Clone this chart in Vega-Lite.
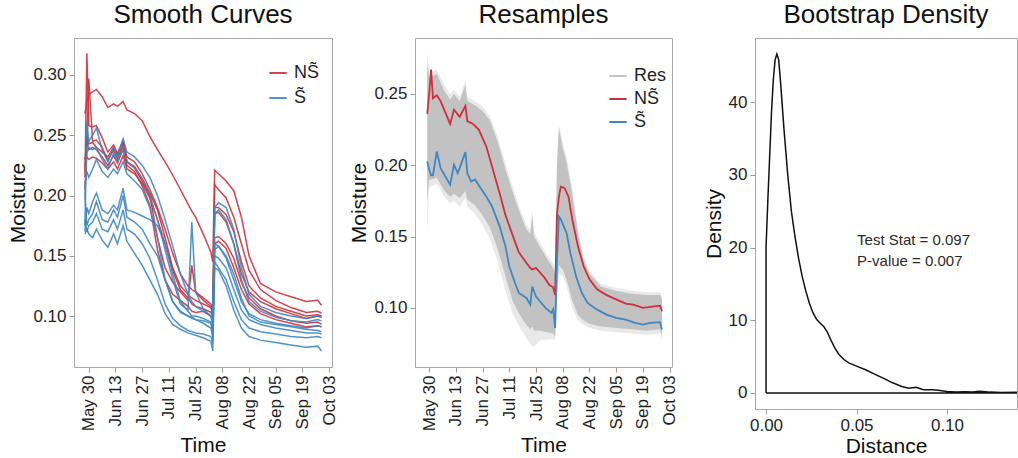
{
"$schema": "https://vega.github.io/schema/vega-lite/v6.json",
"padding": {"left": 7, "top": 1, "right": 0, "bottom": 2},
"bounds": "flush",
"spacing": 83,
"config": {
  "font": "Liberation Sans",
  "view": {"stroke": "#A8A8A8", "strokeWidth": 1},
  "axis": {"domain": false, "grid": false, "tickSize": 5, "tickColor": "#9a9a9a", "labelFontSize": 17, "labelColor": "#1f1f1f", "labelPadding": 3, "titleFontSize": 21, "titleFontWeight": "normal", "titleColor": "#111111", "titlePadding": 4, "labelFlush": false, "labelOverlap": false},
  "title": {"fontSize": 26, "fontWeight": "normal", "color": "#111111", "anchor": "middle", "baseline": "alphabetic", "offset": 10},
  "legend": {"symbolType": "stroke", "symbolSize": 300, "symbolStrokeWidth": 2, "labelFontSize": 18, "labelColor": "#1f1f1f", "padding": 0, "labelOffset": 6}
},
"resolve": {"scale": {"color": "independent"}},
"datasets": {
  "sm": [
    {"date":"2014-05-28","R1":0.268,"R2":0.215,"R3":0.205,"R4":0.23,"R5":0.225,"R6":0.22,"B1":0.175,"B2":0.2,"B3":0.21,"B4":0.17,"B5":0.2,"B6":0.18,"B7":0.168},
    {"date":"2014-05-29","R1":0.279,"R2":0.318,"R3":0.24,"R4":0.245,"R5":0.232,"R6":0.25,"B1":0.262,"B2":0.235,"B3":0.22,"B4":0.19,"B5":0.175,"B6":0.17,"B7":0.172},
    {"date":"2014-05-30","R1":0.284,"R2":0.258,"R3":0.297,"R4":0.238,"R5":0.23,"R6":0.243,"B1":0.245,"B2":0.24,"B3":0.215,"B4":0.185,"B5":0.18,"B6":0.175,"B7":0.168},
    {"date":"2014-06-01","R1":0.286,"R2":0.257,"R3":0.245,"R4":0.24,"R5":0.232,"R6":0.244,"B1":0.25,"B2":0.238,"B3":0.222,"B4":0.195,"B5":0.185,"B6":0.178,"B7":0.165},
    {"date":"2014-06-03","R1":0.288,"R2":0.258,"R3":0.246,"R4":0.238,"R5":0.231,"R6":0.24,"B1":0.256,"B2":0.24,"B3":0.23,"B4":0.202,"B5":0.195,"B6":0.185,"B7":0.172},
    {"date":"2014-06-06","R1":0.282,"R2":0.248,"R3":0.24,"R4":0.232,"R5":0.227,"R6":0.236,"B1":0.238,"B2":0.23,"B3":0.22,"B4":0.188,"B5":0.18,"B6":0.172,"B7":0.163},
    {"date":"2014-06-09","R1":0.273,"R2":0.236,"R3":0.229,"R4":0.225,"R5":0.222,"R6":0.232,"B1":0.228,"B2":0.222,"B3":0.215,"B4":0.185,"B5":0.178,"B6":0.17,"B7":0.157},
    {"date":"2014-06-12","R1":0.276,"R2":0.242,"R3":0.238,"R4":0.233,"R5":0.228,"R6":0.24,"B1":0.24,"B2":0.235,"B3":0.222,"B4":0.192,"B5":0.188,"B6":0.18,"B7":0.168},
    {"date":"2014-06-14","R1":0.274,"R2":0.235,"R3":0.23,"R4":0.227,"R5":0.222,"R6":0.233,"B1":0.232,"B2":0.228,"B3":0.218,"B4":0.188,"B5":0.182,"B6":0.172,"B7":0.16},
    {"date":"2014-06-17","R1":0.278,"R2":0.246,"R3":0.242,"R4":0.238,"R5":0.233,"R6":0.244,"B1":0.247,"B2":0.24,"B3":0.228,"B4":0.206,"B5":0.2,"B6":0.188,"B7":0.175},
    {"date":"2014-06-19","R1":0.271,"R2":0.232,"R3":0.228,"R4":0.225,"R5":0.222,"R6":0.228,"B1":0.236,"B2":0.228,"B3":0.218,"B4":0.188,"B5":0.182,"B6":0.172,"B7":0.162},
    {"date":"2014-06-23","R1":0.268,"R2":0.228,"R3":0.223,"R4":0.22,"R5":0.218,"R6":0.224,"B1":0.232,"B2":0.223,"B3":0.212,"B4":0.186,"B5":0.178,"B6":0.168,"B7":0.152},
    {"date":"2014-06-27","R1":0.262,"R2":0.218,"R3":0.212,"R4":0.208,"R5":0.21,"R6":0.214,"B1":0.225,"B2":0.214,"B3":0.205,"B4":0.183,"B5":0.172,"B6":0.16,"B7":0.142},
    {"date":"2014-07-01","R1":0.249,"R2":0.205,"R3":0.2,"R4":0.192,"R5":0.198,"R6":0.202,"B1":0.215,"B2":0.2,"B3":0.19,"B4":0.18,"B5":0.16,"B6":0.148,"B7":0.13},
    {"date":"2014-07-05","R1":0.238,"R2":0.19,"R3":0.165,"R4":0.155,"R5":0.18,"R6":0.188,"B1":0.2,"B2":0.18,"B3":0.165,"B4":0.175,"B5":0.15,"B6":0.13,"B7":0.118},
    {"date":"2014-07-09","R1":0.228,"R2":0.172,"R3":0.14,"R4":0.13,"R5":0.16,"R6":0.165,"B1":0.18,"B2":0.155,"B3":0.13,"B4":0.16,"B5":0.13,"B6":0.11,"B7":0.102},
    {"date":"2014-07-13","R1":0.217,"R2":0.152,"R3":0.128,"R4":0.118,"R5":0.138,"R6":0.14,"B1":0.158,"B2":0.13,"B3":0.112,"B4":0.135,"B5":0.112,"B6":0.098,"B7":0.093},
    {"date":"2014-07-17","R1":0.205,"R2":0.135,"R3":0.12,"R4":0.113,"R5":0.122,"R6":0.125,"B1":0.135,"B2":0.11,"B3":0.104,"B4":0.112,"B5":0.103,"B6":0.092,"B7":0.089},
    {"date":"2014-07-21","R1":0.193,"R2":0.125,"R3":0.113,"R4":0.108,"R5":0.115,"R6":0.118,"B1":0.118,"B2":0.105,"B3":0.1,"B4":0.104,"B5":0.1,"B6":0.088,"B7":0.086},
    {"date":"2014-07-23","R1":0.187,"R2":0.122,"R3":0.142,"R4":0.104,"R5":0.11,"R6":0.115,"B1":0.112,"B2":0.178,"B3":0.098,"B4":0.1,"B5":0.099,"B6":0.087,"B7":0.085},
    {"date":"2014-07-25","R1":0.182,"R2":0.12,"R3":0.12,"R4":0.103,"R5":0.108,"R6":0.113,"B1":0.108,"B2":0.12,"B3":0.097,"B4":0.1,"B5":0.097,"B6":0.086,"B7":0.084},
    {"date":"2014-07-29","R1":0.168,"R2":0.115,"R3":0.113,"R4":0.104,"R5":0.106,"R6":0.11,"B1":0.104,"B2":0.106,"B3":0.096,"B4":0.098,"B5":0.094,"B6":0.085,"B7":0.082},
    {"date":"2014-08-02","R1":0.153,"R2":0.11,"R3":0.108,"R4":0.1,"R5":0.103,"R6":0.107,"B1":0.1,"B2":0.1,"B3":0.094,"B4":0.095,"B5":0.09,"B6":0.083,"B7":0.079},
    {"date":"2014-08-03","R1":0.145,"R2":0.105,"R3":0.1,"R4":0.098,"R5":0.1,"R6":0.104,"B1":0.095,"B2":0.093,"B3":0.09,"B4":0.085,"B5":0.082,"B6":0.078,"B7":0.071},
    {"date":"2014-08-04","R1":0.221,"R2":0.209,"R3":0.185,"R4":0.165,"R5":0.16,"R6":0.19,"B1":0.19,"B2":0.185,"B3":0.16,"B4":0.155,"B5":0.15,"B6":0.145,"B7":0.14},
    {"date":"2014-08-06","R1":0.218,"R2":0.205,"R3":0.186,"R4":0.166,"R5":0.162,"R6":0.19,"B1":0.194,"B2":0.188,"B3":0.158,"B4":0.158,"B5":0.148,"B6":0.14,"B7":0.138},
    {"date":"2014-08-10","R1":0.212,"R2":0.198,"R3":0.178,"R4":0.16,"R5":0.156,"R6":0.184,"B1":0.19,"B2":0.18,"B3":0.148,"B4":0.15,"B5":0.14,"B6":0.13,"B7":0.125},
    {"date":"2014-08-14","R1":0.204,"R2":0.182,"R3":0.16,"R4":0.148,"R5":0.14,"R6":0.17,"B1":0.172,"B2":0.16,"B3":0.13,"B4":0.135,"B5":0.122,"B6":0.112,"B7":0.105},
    {"date":"2014-08-18","R1":0.182,"R2":0.16,"R3":0.135,"R4":0.128,"R5":0.122,"R6":0.145,"B1":0.14,"B2":0.13,"B3":0.112,"B4":0.115,"B5":0.105,"B6":0.097,"B7":0.09},
    {"date":"2014-08-22","R1":0.15,"R2":0.138,"R3":0.12,"R4":0.115,"R5":0.11,"R6":0.125,"B1":0.118,"B2":0.112,"B3":0.102,"B4":0.1,"B5":0.097,"B6":0.09,"B7":0.083},
    {"date":"2014-08-28","R1":0.127,"R2":0.122,"R3":0.112,"R4":0.106,"R5":0.102,"R6":0.115,"B1":0.108,"B2":0.104,"B3":0.097,"B4":0.095,"B5":0.093,"B6":0.087,"B7":0.08},
    {"date":"2014-09-05","R1":0.12,"R2":0.113,"R3":0.106,"R4":0.1,"R5":0.097,"R6":0.108,"B1":0.103,"B2":0.099,"B3":0.094,"B4":0.093,"B5":0.09,"B6":0.085,"B7":0.078},
    {"date":"2014-09-13","R1":0.116,"R2":0.107,"R3":0.102,"R4":0.096,"R5":0.094,"R6":0.104,"B1":0.1,"B2":0.096,"B3":0.092,"B4":0.091,"B5":0.088,"B6":0.083,"B7":0.076},
    {"date":"2014-09-21","R1":0.112,"R2":0.103,"R3":0.098,"R4":0.094,"R5":0.091,"R6":0.1,"B1":0.098,"B2":0.095,"B3":0.09,"B4":0.089,"B5":0.086,"B6":0.082,"B7":0.074},
    {"date":"2014-09-27","R1":0.113,"R2":0.104,"R3":0.1,"R4":0.095,"R5":0.092,"R6":0.101,"B1":0.1,"B2":0.097,"B3":0.092,"B4":0.088,"B5":0.086,"B6":0.083,"B7":0.075},
    {"date":"2014-09-29","R1":0.109,"R2":0.1025,"R3":0.099,"R4":0.093,"R5":0.091,"R6":0.1,"B1":0.099,"B2":0.096,"B3":0.091,"B4":0.087,"B5":0.085,"B6":0.082,"B7":0.071}
  ],
  "band": [
    {"date":"2014-05-29","lo":0.175,"hi":0.272,"lo2":0.152,"hi2":0.279},
    {"date":"2014-05-30","lo":0.19,"hi":0.262,"lo2":0.184,"hi2":0.268},
    {"date":"2014-05-31","lo":0.19,"hi":0.262,"lo2":0.185,"hi2":0.266},
    {"date":"2014-06-03","lo":0.191,"hi":0.264,"lo2":0.187,"hi2":0.267},
    {"date":"2014-06-07","lo":0.182,"hi":0.252,"lo2":0.178,"hi2":0.256},
    {"date":"2014-06-10","lo":0.178,"hi":0.246,"lo2":0.173,"hi2":0.25},
    {"date":"2014-06-12","lo":0.18,"hi":0.25,"lo2":0.175,"hi2":0.253},
    {"date":"2014-06-15","lo":0.177,"hi":0.245,"lo2":0.171,"hi2":0.248},
    {"date":"2014-06-18","lo":0.182,"hi":0.256,"lo2":0.177,"hi2":0.259},
    {"date":"2014-06-19","lo":0.176,"hi":0.245,"lo2":0.171,"hi2":0.248},
    {"date":"2014-06-23","lo":0.172,"hi":0.242,"lo2":0.166,"hi2":0.245},
    {"date":"2014-06-27","lo":0.165,"hi":0.238,"lo2":0.158,"hi2":0.241},
    {"date":"2014-07-01","lo":0.156,"hi":0.231,"lo2":0.148,"hi2":0.234},
    {"date":"2014-07-05","lo":0.141,"hi":0.216,"lo2":0.132,"hi2":0.22},
    {"date":"2014-07-09","lo":0.122,"hi":0.197,"lo2":0.112,"hi2":0.201},
    {"date":"2014-07-13","lo":0.104,"hi":0.18,"lo2":0.095,"hi2":0.184},
    {"date":"2014-07-17","lo":0.094,"hi":0.165,"lo2":0.085,"hi2":0.168},
    {"date":"2014-07-20","lo":0.088,"hi":0.155,"lo2":0.079,"hi2":0.158},
    {"date":"2014-07-22","lo":0.085,"hi":0.152,"lo2":0.075,"hi2":0.155},
    {"date":"2014-07-23","lo":0.087,"hi":0.165,"lo2":0.073,"hi2":0.168},
    {"date":"2014-07-24","lo":0.084,"hi":0.15,"lo2":0.073,"hi2":0.153},
    {"date":"2014-07-27","lo":0.084,"hi":0.143,"lo2":0.077,"hi2":0.146},
    {"date":"2014-07-31","lo":0.083,"hi":0.134,"lo2":0.078,"hi2":0.137},
    {"date":"2014-08-03","lo":0.082,"hi":0.128,"lo2":0.078,"hi2":0.131},
    {"date":"2014-08-04","lo":0.08,"hi":0.124,"lo2":0.077,"hi2":0.127},
    {"date":"2014-08-05","lo":0.11,"hi":0.2,"lo2":0.104,"hi2":0.204},
    {"date":"2014-08-06","lo":0.13,"hi":0.226,"lo2":0.124,"hi2":0.229},
    {"date":"2014-08-08","lo":0.127,"hi":0.212,"lo2":0.122,"hi2":0.216},
    {"date":"2014-08-10","lo":0.12,"hi":0.202,"lo2":0.115,"hi2":0.206},
    {"date":"2014-08-13","lo":0.105,"hi":0.18,"lo2":0.1,"hi2":0.184},
    {"date":"2014-08-16","lo":0.095,"hi":0.152,"lo2":0.091,"hi2":0.155},
    {"date":"2014-08-19","lo":0.091,"hi":0.133,"lo2":0.088,"hi2":0.136},
    {"date":"2014-08-22","lo":0.089,"hi":0.124,"lo2":0.086,"hi2":0.126},
    {"date":"2014-08-28","lo":0.087,"hi":0.115,"lo2":0.084,"hi2":0.117},
    {"date":"2014-09-05","lo":0.086,"hi":0.112,"lo2":0.083,"hi2":0.114},
    {"date":"2014-09-13","lo":0.085,"hi":0.11,"lo2":0.082,"hi2":0.112},
    {"date":"2014-09-21","lo":0.084,"hi":0.109,"lo2":0.081,"hi2":0.111},
    {"date":"2014-09-28","lo":0.085,"hi":0.109,"lo2":0.082,"hi2":0.111},
    {"date":"2014-09-29","lo":0.081,"hi":0.106,"lo2":0.078,"hi2":0.108}
  ],
  "means": [
    {"date":"2014-05-29","g":"NS\u0303","v":0.236},
    {"date":"2014-05-30","g":"NS\u0303","v":0.25},
    {"date":"2014-05-31","g":"NS\u0303","v":0.267},
    {"date":"2014-06-01","g":"NS\u0303","v":0.247},
    {"date":"2014-06-03","g":"NS\u0303","v":0.249},
    {"date":"2014-06-05","g":"NS\u0303","v":0.245},
    {"date":"2014-06-10","g":"NS\u0303","v":0.229},
    {"date":"2014-06-12","g":"NS\u0303","v":0.239},
    {"date":"2014-06-15","g":"NS\u0303","v":0.234},
    {"date":"2014-06-18","g":"NS\u0303","v":0.2416},
    {"date":"2014-06-19","g":"NS\u0303","v":0.231},
    {"date":"2014-06-22","g":"NS\u0303","v":0.229},
    {"date":"2014-06-25","g":"NS\u0303","v":0.225},
    {"date":"2014-06-29","g":"NS\u0303","v":0.213},
    {"date":"2014-07-02","g":"NS\u0303","v":0.199},
    {"date":"2014-07-06","g":"NS\u0303","v":0.18},
    {"date":"2014-07-09","g":"NS\u0303","v":0.165},
    {"date":"2014-07-13","g":"NS\u0303","v":0.15},
    {"date":"2014-07-16","g":"NS\u0303","v":0.139},
    {"date":"2014-07-20","g":"NS\u0303","v":0.1315},
    {"date":"2014-07-22","g":"NS\u0303","v":0.128},
    {"date":"2014-07-23","g":"NS\u0303","v":0.127},
    {"date":"2014-07-25","g":"NS\u0303","v":0.128},
    {"date":"2014-07-29","g":"NS\u0303","v":0.122},
    {"date":"2014-08-01","g":"NS\u0303","v":0.116},
    {"date":"2014-08-03","g":"NS\u0303","v":0.1145},
    {"date":"2014-08-04","g":"NS\u0303","v":0.109},
    {"date":"2014-08-05","g":"NS\u0303","v":0.166},
    {"date":"2014-08-06","g":"NS\u0303","v":0.178},
    {"date":"2014-08-07","g":"NS\u0303","v":0.185},
    {"date":"2014-08-09","g":"NS\u0303","v":0.184},
    {"date":"2014-08-11","g":"NS\u0303","v":0.178},
    {"date":"2014-08-13","g":"NS\u0303","v":0.162},
    {"date":"2014-08-16","g":"NS\u0303","v":0.143},
    {"date":"2014-08-19","g":"NS\u0303","v":0.129},
    {"date":"2014-08-22","g":"NS\u0303","v":0.12},
    {"date":"2014-08-26","g":"NS\u0303","v":0.113},
    {"date":"2014-08-31","g":"NS\u0303","v":0.109},
    {"date":"2014-09-05","g":"NS\u0303","v":0.106},
    {"date":"2014-09-10","g":"NS\u0303","v":0.103},
    {"date":"2014-09-14","g":"NS\u0303","v":0.1023},
    {"date":"2014-09-19","g":"NS\u0303","v":0.1},
    {"date":"2014-09-23","g":"NS\u0303","v":0.1007},
    {"date":"2014-09-28","g":"NS\u0303","v":0.1016},
    {"date":"2014-09-29","g":"NS\u0303","v":0.0977},
    {"date":"2014-05-29","g":"S\u0303","v":0.2026},
    {"date":"2014-05-30","g":"S\u0303","v":0.197},
    {"date":"2014-05-31","g":"S\u0303","v":0.193},
    {"date":"2014-06-01","g":"S\u0303","v":0.193},
    {"date":"2014-06-03","g":"S\u0303","v":0.2096},
    {"date":"2014-06-05","g":"S\u0303","v":0.198},
    {"date":"2014-06-10","g":"S\u0303","v":0.1863},
    {"date":"2014-06-12","g":"S\u0303","v":0.2003},
    {"date":"2014-06-14","g":"S\u0303","v":0.1945},
    {"date":"2014-06-18","g":"S\u0303","v":0.2092},
    {"date":"2014-06-19","g":"S\u0303","v":0.1945},
    {"date":"2014-06-21","g":"S\u0303","v":0.1886},
    {"date":"2014-06-23","g":"S\u0303","v":0.19},
    {"date":"2014-06-25","g":"S\u0303","v":0.186},
    {"date":"2014-06-29","g":"S\u0303","v":0.178},
    {"date":"2014-07-02","g":"S\u0303","v":0.171},
    {"date":"2014-07-06","g":"S\u0303","v":0.157},
    {"date":"2014-07-09","g":"S\u0303","v":0.143},
    {"date":"2014-07-11","g":"S\u0303","v":0.129},
    {"date":"2014-07-14","g":"S\u0303","v":0.1175},
    {"date":"2014-07-16","g":"S\u0303","v":0.1105},
    {"date":"2014-07-20","g":"S\u0303","v":0.107},
    {"date":"2014-07-22","g":"S\u0303","v":0.1023},
    {"date":"2014-07-23","g":"S\u0303","v":0.115},
    {"date":"2014-07-25","g":"S\u0303","v":0.108},
    {"date":"2014-07-27","g":"S\u0303","v":0.1047},
    {"date":"2014-07-30","g":"S\u0303","v":0.1},
    {"date":"2014-08-02","g":"S\u0303","v":0.0965},
    {"date":"2014-08-03","g":"S\u0303","v":0.099},
    {"date":"2014-08-04","g":"S\u0303","v":0.086},
    {"date":"2014-08-05","g":"S\u0303","v":0.134},
    {"date":"2014-08-06","g":"S\u0303","v":0.164},
    {"date":"2014-08-07","g":"S\u0303","v":0.162},
    {"date":"2014-08-10","g":"S\u0303","v":0.1525},
    {"date":"2014-08-12","g":"S\u0303","v":0.1385},
    {"date":"2014-08-15","g":"S\u0303","v":0.122},
    {"date":"2014-08-18","g":"S\u0303","v":0.1105},
    {"date":"2014-08-21","g":"S\u0303","v":0.1035},
    {"date":"2014-08-26","g":"S\u0303","v":0.0988},
    {"date":"2014-08-31","g":"S\u0303","v":0.0953},
    {"date":"2014-09-05","g":"S\u0303","v":0.093},
    {"date":"2014-09-10","g":"S\u0303","v":0.0918},
    {"date":"2014-09-15","g":"S\u0303","v":0.0895},
    {"date":"2014-09-19","g":"S\u0303","v":0.0883},
    {"date":"2014-09-23","g":"S\u0303","v":0.0895},
    {"date":"2014-09-28","g":"S\u0303","v":0.09},
    {"date":"2014-09-29","g":"S\u0303","v":0.0848}
  ],
  "dens": [
    {"i":1,"x":0,"y":0},{"i":2,"x":0,"y":20},{"i":3,"x":0.001,"y":26.5},{"i":4,"x":0.002,"y":32.5},
    {"i":5,"x":0.003,"y":38.5},{"i":6,"x":0.004,"y":43},{"i":7,"x":0.005,"y":45.8},{"i":8,"x":0.006,"y":46.6},
    {"i":9,"x":0.007,"y":45.8},{"i":10,"x":0.008,"y":42.8},{"i":11,"x":0.01,"y":36},{"i":12,"x":0.012,"y":30},
    {"i":13,"x":0.014,"y":25},{"i":14,"x":0.016,"y":21.5},{"i":15,"x":0.018,"y":18.5},{"i":16,"x":0.02,"y":16},
    {"i":17,"x":0.022,"y":14},{"i":18,"x":0.024,"y":12.3},{"i":19,"x":0.026,"y":11},{"i":20,"x":0.028,"y":10.1},
    {"i":21,"x":0.03,"y":9.6},{"i":22,"x":0.032,"y":9.1},{"i":23,"x":0.034,"y":8.3},{"i":24,"x":0.036,"y":7.2},
    {"i":25,"x":0.038,"y":6.2},{"i":26,"x":0.04,"y":5.4},{"i":27,"x":0.043,"y":4.6},{"i":28,"x":0.046,"y":4.1},
    {"i":29,"x":0.05,"y":3.7},{"i":30,"x":0.055,"y":3.2},{"i":31,"x":0.06,"y":2.6},{"i":32,"x":0.065,"y":2},
    {"i":33,"x":0.07,"y":1.4},{"i":34,"x":0.075,"y":0.9},{"i":35,"x":0.079,"y":0.65},{"i":36,"x":0.083,"y":0.8},
    {"i":37,"x":0.087,"y":0.45},{"i":38,"x":0.092,"y":0.45},{"i":39,"x":0.096,"y":0.35},{"i":40,"x":0.1,"y":0.2},
    {"i":41,"x":0.105,"y":0.15},{"i":42,"x":0.11,"y":0.18},{"i":43,"x":0.114,"y":0.15},{"i":44,"x":0.118,"y":0.25},
    {"i":45,"x":0.124,"y":0.12},{"i":46,"x":0.13,"y":0.08},{"i":47,"x":0.1385,"y":0.1},{"i":48,"x":0.1385,"y":0},
    {"i":49,"x":0,"y":0}
  ],
  "ann": [
    {"x":0.0503,"y":21,"t":"Test Stat = 0.097"},
    {"x":0.0503,"y":18.2,"t":"P-value = 0.007"}
  ]
},
"hconcat": [
  {
    "title": "Smooth Curves",
    "width": 258, "height": 329,
    "data": {"name": "sm"},
    "encoding": {
      "x": {"field": "date", "type": "temporal",
        "scale": {"type": "utc", "domain": [{"year":2014,"month":5,"date":22,"hours":6,"utc":true},{"year":2014,"month":10,"date":4,"hours":12,"utc":true}]},
        "axis": {"title": "Time", "format": "%b %d", "labelAngle": 270,
          "values": [{"year":2014,"month":5,"date":30,"utc":true},{"year":2014,"month":6,"date":13,"utc":true},{"year":2014,"month":6,"date":27,"utc":true},{"year":2014,"month":7,"date":11,"utc":true},{"year":2014,"month":7,"date":25,"utc":true},{"year":2014,"month":8,"date":8,"utc":true},{"year":2014,"month":8,"date":22,"utc":true},{"year":2014,"month":9,"date":5,"utc":true},{"year":2014,"month":9,"date":19,"utc":true},{"year":2014,"month":10,"date":3,"utc":true}]}},
      "y": {"field": "v", "type": "quantitative",
        "scale": {"domain": [0.0577, 0.3307], "nice": false, "zero": false},
        "axis": {"title": "Moisture", "values": [0.1, 0.15, 0.2, 0.25, 0.3], "format": ".2f"}}
    },
    "layer": [
      {
        "transform": [{"fold": ["R1","R2","R3","R4","R5","R6"], "as": ["curve","v"]}, {"filter": "isValid(datum.v)"}],
        "mark": {"type": "line", "strokeWidth": 1.5, "opacity": 0.9},
        "encoding": {
          "detail": {"field": "curve"},
          "color": {"datum": "NS\u0303", "type": "nominal",
            "scale": {"domain": ["NS\u0303", "S\u0303"], "range": ["#CF2F3A", "#3D87C2"]},
            "legend": {"title": null, "orient": "none", "legendX": 194, "legendY": 25, "rowPadding": 6}}
        }
      },
      {
        "transform": [{"fold": ["B1","B2","B3","B4","B5","B6","B7"], "as": ["curve","v"]}, {"filter": "isValid(datum.v)"}],
        "mark": {"type": "line", "strokeWidth": 1.5, "opacity": 0.9},
        "encoding": {
          "detail": {"field": "curve"},
          "color": {"datum": "S\u0303", "type": "nominal"}
        }
      }
    ]
  },
  {
    "title": "Resamples",
    "width": 257, "height": 329,
    "encoding": {
      "x": {"field": "date", "type": "temporal",
        "scale": {"type": "utc", "domain": [{"year":2014,"month":5,"date":22,"hours":14,"utc":true},{"year":2014,"month":10,"date":4,"hours":6,"utc":true}]},
        "axis": {"title": "Time", "format": "%b %d", "labelAngle": 270,
          "values": [{"year":2014,"month":5,"date":30,"utc":true},{"year":2014,"month":6,"date":13,"utc":true},{"year":2014,"month":6,"date":27,"utc":true},{"year":2014,"month":7,"date":11,"utc":true},{"year":2014,"month":7,"date":25,"utc":true},{"year":2014,"month":8,"date":8,"utc":true},{"year":2014,"month":8,"date":22,"utc":true},{"year":2014,"month":9,"date":5,"utc":true},{"year":2014,"month":9,"date":19,"utc":true},{"year":2014,"month":10,"date":3,"utc":true}]}}
    },
    "layer": [
      {
        "data": {"name": "band"},
        "mark": {"type": "area", "color": "#E9E9E9"},
        "encoding": {
          "y": {"field": "lo2", "type": "quantitative", "scale": {"domain": [0.0586, 0.2892], "nice": false, "zero": false},
            "axis": {"title": "Moisture", "values": [0.1, 0.15, 0.2, 0.25], "format": ".2f"}},
          "y2": {"field": "hi2"}
        }
      },
      {
        "data": {"name": "band"},
        "mark": {"type": "area", "color": "#C2C2C2"},
        "encoding": {
          "y": {"field": "lo", "type": "quantitative"},
          "y2": {"field": "hi"}
        }
      },
      {
        "data": {"name": "means"},
        "mark": {"type": "line", "strokeWidth": 1.8},
        "encoding": {
          "y": {"field": "v", "type": "quantitative"},
          "color": {"field": "g", "type": "nominal",
            "scale": {"domain": ["Res", "NS\u0303", "S\u0303"], "range": ["#C4C4C4", "#CF2F3A", "#3D87C2"]},
            "legend": {"title": null, "orient": "none", "legendX": 193, "legendY": 28, "rowPadding": 4}}
        }
      }
    ]
  },
  {
    "title": "Bootstrap Density",
    "width": 262, "height": 371,
    "encoding": {
      "x": {"field": "x", "type": "quantitative",
        "scale": {"domain": [-0.0061, 0.1387], "nice": false, "zero": false},
        "axis": {"title": "Distance", "values": [0, 0.05, 0.1], "format": ".2f", "titlePadding": 2}},
      "y": {"field": "y", "type": "quantitative",
        "scale": {"domain": [-2.2, 48.8], "nice": false, "zero": false},
        "axis": {"title": "Density", "values": [0, 10, 20, 30, 40]}}
    },
    "layer": [
      {
        "data": {"name": "dens"},
        "mark": {"type": "line", "color": "#111111", "strokeWidth": 1.5, "clip": true},
        "encoding": {"order": {"field": "i", "type": "quantitative"}}
      },
      {
        "data": {"name": "ann"},
        "mark": {"type": "text", "align": "left", "baseline": "middle", "fontSize": 15, "color": "#2a2a2a"},
        "encoding": {"text": {"field": "t"}}
      }
    ]
  }
]
}
